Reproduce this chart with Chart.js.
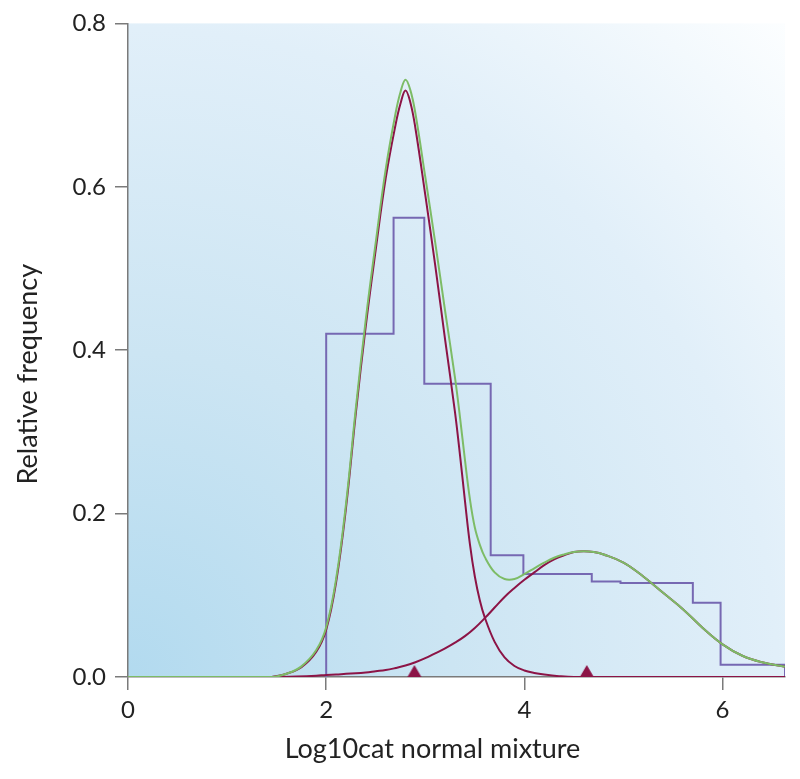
<!DOCTYPE html>
<html lang="en">
<head>
    <meta charset="UTF-8">
    <title>Log10cat normal mixture</title>
    <style>
        body {
            margin: 0;
            padding: 0;
            background-color: #ffffff;
        }
        .wrap {
            width: 800px;
            height: 779px;
        }
    </style>
    <script src="https://cdn.jsdelivr.net/npm/chart.js"></script>
</head>
<body>
    <div class="wrap">
        <canvas id="mixChart" width="800" height="779"></canvas>
    </div>

    <script>
        // histogram: bin edges and relative frequencies
        const histEdges = [2.0, 2.68, 2.99, 3.66, 3.99, 4.68, 4.97, 5.70, 5.98, 6.63];
        const histHeights = [0.42, 0.562, 0.359, 0.149, 0.126, 0.117, 0.115, 0.091, 0.015];

        // fitted mixture (green)
        const mixX = [0, 1.45, 1.6, 1.75, 1.9, 2.0, 2.1, 2.2, 2.3, 2.4, 2.5, 2.6, 2.7, 2.75, 2.8, 2.85, 2.9, 3.0, 3.1, 3.2, 3.3, 3.35, 3.4, 3.45, 3.5, 3.55, 3.6, 3.7, 3.8, 3.9, 4.0, 4.1, 4.2, 4.3, 4.4, 4.5, 4.6, 4.7, 4.8, 5.0, 5.2, 5.4, 5.6, 5.8, 6.0, 6.2, 6.4, 6.63];
        const mixY = [0, 0, 0.004, 0.013, 0.033, 0.061, 0.12, 0.212, 0.33, 0.438, 0.532, 0.621, 0.69, 0.716, 0.731, 0.718, 0.69, 0.612, 0.532, 0.448, 0.366, 0.318, 0.266, 0.218, 0.183, 0.162, 0.147, 0.128, 0.12, 0.12, 0.126, 0.133, 0.14, 0.146, 0.15, 0.153, 0.154, 0.153, 0.150, 0.140, 0.123, 0.103, 0.083, 0.060, 0.040, 0.026, 0.018, 0.0126];

        // first component (maroon)
        const comp1X = [1.45, 1.6, 1.75, 1.9, 2.0, 2.1, 2.2, 2.3, 2.4, 2.5, 2.6, 2.7, 2.75, 2.8, 2.85, 2.9, 3.0, 3.1, 3.2, 3.3, 3.35, 3.4, 3.45, 3.5, 3.55, 3.6, 3.7, 3.8, 3.9, 4.0, 4.1, 4.2, 4.35, 4.5, 6.63];
        const comp1Y = [0, 0.004, 0.012, 0.031, 0.058, 0.116, 0.207, 0.324, 0.43, 0.523, 0.61, 0.676, 0.702, 0.718, 0.703, 0.672, 0.59, 0.504, 0.413, 0.324, 0.272, 0.216, 0.163, 0.123, 0.094, 0.073, 0.043, 0.024, 0.0135, 0.008, 0.005, 0.003, 0.001, 0, 0];

        // second component (maroon)
        const comp2X = [1.45, 1.7, 1.9, 2.0, 2.1, 2.2, 2.3, 2.4, 2.5, 2.6, 2.7, 2.8, 2.9, 3.0, 3.1, 3.2, 3.3, 3.4, 3.5, 3.6, 3.7, 3.8, 3.9, 4.0, 4.1, 4.2, 4.3, 4.4, 4.5, 4.6, 4.7, 4.8, 5.0, 5.2, 5.4, 5.6, 5.8, 6.0, 6.2, 6.4, 6.63];
        const comp2Y = [0, 0.0005, 0.0015, 0.0025, 0.003, 0.004, 0.0045, 0.0055, 0.007, 0.0085, 0.011, 0.014, 0.018, 0.023, 0.029, 0.035, 0.042, 0.05, 0.06, 0.072, 0.085, 0.098, 0.109, 0.119, 0.128, 0.137, 0.144, 0.149, 0.153, 0.154, 0.153, 0.150, 0.140, 0.123, 0.103, 0.083, 0.060, 0.040, 0.026, 0.018, 0.0126];

        // component means marked on the axis
        const meanMarks = [2.89, 4.63];

        const xTicks = [0, 2, 4, 6];
        const yTicks = [0, 0.2, 0.4, 0.6, 0.8];
        const xTitle = "Log10cat normal mixture";
        const yTitle = "Relative frequency";

        const purple = "#7668b2";
        const maroon = "#8c1446";
        const green = "#7dbc66";
        const axisGrey = "#7a7a7a";

        function toPoints(xs, ys) {
            return xs.map((x, i) => ({ x: x, y: ys[i] }));
        }

        const histPoints = [{ x: histEdges[0], y: 0 }];
        histHeights.forEach((h, i) => histPoints.push({ x: histEdges[i], y: h }));
        histPoints.push({ x: histEdges[histEdges.length - 1], y: 0 });

        // triangle sitting on its base at the point
        const tri = document.createElement("canvas");
        tri.width = 16;
        tri.height = 26;
        const tctx = tri.getContext("2d");
        tctx.fillStyle = maroon;
        tctx.beginPath();
        tctx.moveTo(1, 13);
        tctx.lineTo(15, 13);
        tctx.lineTo(8, 1);
        tctx.closePath();
        tctx.fill();

        const plotBackground = {
            id: "plotBackground",
            beforeDraw(chart) {
                const { ctx, chartArea: a } = chart;
                const r = Math.hypot(a.right - a.left, a.bottom - a.top);
                const g = ctx.createRadialGradient(a.left, a.bottom, 0, a.left, a.bottom, r);
                g.addColorStop(0, "#b2daef");
                g.addColorStop(0.35, "#cce5f3");
                g.addColorStop(0.7, "#e1eff9");
                g.addColorStop(1, "#fcfeff");
                ctx.save();
                ctx.fillStyle = g;
                ctx.fillRect(a.left, a.top, a.right - a.left, a.bottom - a.top);
                ctx.restore();
            }
        };

        const axisTitles = {
            id: "axisTitles",
            afterDraw(chart) {
                const { ctx, chartArea: a } = chart;
                ctx.save();
                ctx.fillStyle = "#222";
                ctx.font = "27px Lato";
                ctx.textAlign = "center";
                ctx.textBaseline = "middle";
                ctx.fillText(xTitle, (a.left + a.right) / 2 - 24, 749);
                ctx.translate(28, (a.top + a.bottom) / 2 + 24);
                ctx.rotate(-Math.PI / 2);
                ctx.fillText(yTitle, 0, 0);
                ctx.restore();
            }
        };

        const lineStyle = {
            pointRadius: 0,
            borderWidth: 2,
            fill: false,
            tension: 0.4
        };

        new Chart(document.getElementById("mixChart"), {
            type: "line",
            data: {
                datasets: [
                    {
                        type: "scatter",
                        data: meanMarks.map(x => ({ x: x, y: 0 })),
                        pointStyle: tri,
                        pointRadius: 8,
                        clip: false
                    },
                    Object.assign({ data: toPoints(mixX, mixY), borderColor: green }, lineStyle),
                    Object.assign({ data: toPoints(comp1X, comp1Y), borderColor: maroon }, lineStyle),
                    Object.assign({ data: toPoints(comp2X, comp2Y), borderColor: maroon }, lineStyle),
                    {
                        data: histPoints,
                        borderColor: purple,
                        borderWidth: 2,
                        pointRadius: 0,
                        stepped: "before",
                        fill: false
                    }
                ]
            },
            options: {
                responsive: false,
                animation: false,
                events: [],
                layout: { padding: { top: 22, right: 15, left: 0, bottom: 0 } },
                plugins: {
                    legend: { display: false },
                    tooltip: { enabled: false }
                },
                scales: {
                    x: {
                        type: "linear",
                        min: 0,
                        max: histEdges[histEdges.length - 1],
                        afterFit: s => { s.height = 102; },
                        afterBuildTicks: s => { s.ticks = xTicks.map(v => ({ value: v })); },
                        grid: { drawOnChartArea: false, drawTicks: true, tickLength: 13, color: axisGrey, lineWidth: 1.5 },
                        border: { color: axisGrey, width: 1.5 },
                        ticks: {
                            padding: 6,
                            color: "#222",
                            font: { family: "Lato", size: 24 },
                            callback: v => String(v)
                        }
                    },
                    y: {
                        type: "linear",
                        min: 0,
                        max: 0.8,
                        afterFit: s => { s.width = 128; },
                        afterBuildTicks: s => { s.ticks = yTicks.map(v => ({ value: v })); },
                        grid: { drawOnChartArea: false, drawTicks: true, tickLength: 13, color: axisGrey, lineWidth: 1.5 },
                        border: { color: axisGrey, width: 1.5 },
                        ticks: {
                            padding: 9,
                            color: "#222",
                            font: { family: "Lato", size: 24 },
                            callback: v => v.toFixed(1)
                        }
                    }
                }
            },
            plugins: [plotBackground, axisTitles]
        });
    </script>
</body>
</html>
